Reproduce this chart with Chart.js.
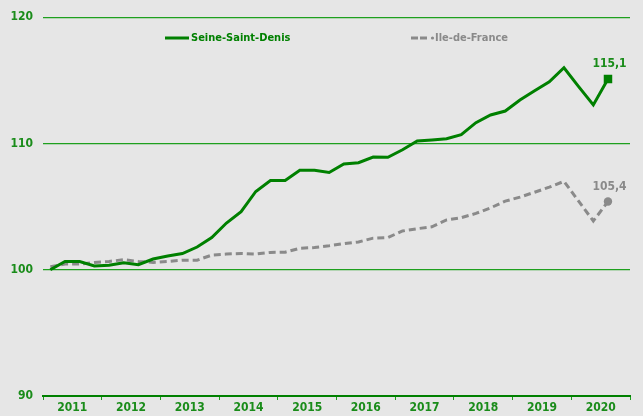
<!DOCTYPE html>
<html>
<head>
<meta charset="utf-8">
<script src="https://cdn.jsdelivr.net/npm/chart.js@4"></script>
<style>
  body { margin: 0; background: #e6e6e6; }
  #wrap { position: relative; width: 643px; height: 416px; }
</style>
</head>
<body>
<div id="wrap"><canvas id="chart"></canvas></div>
<script>
// quarterly index, base 100 = Q1 2011
const years = ["2011", "2012", "2013", "2014", "2015", "2016", "2017", "2018", "2019", "2020"];
const seriesNames = ["Seine-Saint-Denis", "Ile-de-France"];
const seineSaintDenis = [
  100.0, 100.65, 100.65, 100.3, 100.35, 100.55, 100.4, 100.85,
  101.08, 101.28, 101.8, 102.55, 103.7, 104.6, 106.2, 107.06,
  107.06, 107.87, 107.87, 107.7, 108.37, 108.48, 108.92, 108.9,
  109.5, 110.2, 110.28, 110.37, 110.7, 111.65, 112.26, 112.57,
  113.44, 114.17, 114.88, 116.0, 114.5, 113.05, 115.1
];
const ileDeFrance = [
  100.24, 100.45, 100.45, 100.58, 100.66, 100.79, 100.66, 100.58,
  100.66, 100.76, 100.76, 101.16, 101.24, 101.29, 101.24, 101.37,
  101.39, 101.7, 101.76, 101.9, 102.07, 102.2, 102.5, 102.55,
  103.07, 103.25, 103.4, 103.94, 104.12, 104.46, 104.9, 105.43,
  105.75, 106.14, 106.54, 107.0, 105.43, 103.86, 105.4
];
const yTicks = [90, 100, 110, 120];

const GREEN = "#008000";
const TEXT_GREEN = "#1a8c1a";
const GRID_GREEN = "rgb(30,160,30)";
const GREY = "#8a8a8a";
const FONT = "'DejaVu Sans Condensed', 'DejaVu Sans', sans-serif";

// x = quarter index + 0.5 so each point sits mid-quarter
const toPoints = arr => arr.map((v, i) => ({ x: i + 0.5, y: v }));
const lastIdx = seineSaintDenis.length - 1;

const overlay = {
  id: "overlay",
  afterDatasetsDraw(chart) {
    const ctx = chart.ctx;
    ctx.save();
    // legend
    ctx.textBaseline = "middle";
    ctx.lineCap = "butt";
    ctx.strokeStyle = GREEN;
    ctx.lineWidth = 3;
    ctx.beginPath();
    ctx.moveTo(165, 38);
    ctx.lineTo(189, 38);
    ctx.stroke();
    ctx.fillStyle = GREEN;
    ctx.font = "bold 11px " + FONT;
    ctx.fillText(seriesNames[0], 191, 38);

    ctx.strokeStyle = GREY;
    ctx.beginPath();
    ctx.moveTo(411, 38); ctx.lineTo(418, 38);
    ctx.moveTo(420, 38); ctx.lineTo(427, 38);
    ctx.stroke();
    ctx.fillStyle = GREY;
    ctx.beginPath();
    ctx.arc(432.5, 38, 1.6, 0, Math.PI * 2);
    ctx.fill();
    ctx.font = "bold 11px " + FONT;
    ctx.fillText(seriesNames[1], 435, 38);

    // end labels
    ctx.textAlign = "center";
    ctx.font = "bold 12px " + FONT;
    chart.data.datasets.forEach((ds, d) => {
      const pt = chart.getDatasetMeta(d).data[lastIdx];
      const v = ds.data[lastIdx].y;
      ctx.fillStyle = d === 0 ? TEXT_GREEN : GREY;
      ctx.fillText(v.toFixed(1).replace(".", ","), pt.x + 1.5, pt.y - 15);
    });
    ctx.restore();
  }
};

new Chart(document.getElementById("chart"), {
  type: "line",
  data: {
    datasets: [
      {
        label: seriesNames[0],
        data: toPoints(seineSaintDenis),
        borderColor: GREEN,
        backgroundColor: GREEN,
        borderWidth: 3,
        tension: 0,
        pointStyle: "rect",
        pointRadius: c => (c.dataIndex === lastIdx ? 6 : 0),
        pointBorderWidth: 0
      },
      {
        label: seriesNames[1],
        data: toPoints(ileDeFrance),
        borderColor: GREY,
        backgroundColor: GREY,
        borderWidth: 3,
        borderDash: [7, 4],
        tension: 0,
        pointStyle: "circle",
        pointRadius: c => (c.dataIndex === lastIdx ? 4.2 : 0),
        pointBorderWidth: 0
      }
    ]
  },
  options: {
    responsive: true,
    maintainAspectRatio: false,
    animation: false,
    layout: { padding: { top: 15, right: 13, left: 0, bottom: 0 } },
    plugins: {
      legend: { display: false },
      tooltip: { enabled: false }
    },
    scales: {
      x: {
        type: "linear",
        min: 0,
        max: years.length * 4,
        afterFit: s => { s.height = 20; },
        afterBuildTicks: s => {
          s.ticks = [];
          for (let v = 0; v <= years.length * 4; v += 2) s.ticks.push({ value: v });
        },
        border: { display: true, color: GREEN, width: 2 },
        grid: {
          drawOnChartArea: false,
          drawTicks: true,
          tickLength: 4,
          tickWidth: 1,
          tickColor: c => (c.tick && c.tick.value % 4 === 0 ? GRID_GREEN : "rgba(0,0,0,0)")
        },
        ticks: {
          autoSkip: false,
          maxRotation: 0,
          padding: 1,
          color: TEXT_GREEN,
          font: { family: FONT, size: 12, weight: "bold" },
          callback: v => (v % 4 === 2 ? years[(v - 2) / 4] : "")
        }
      },
      y: {
        min: yTicks[0],
        max: yTicks[yTicks.length - 1],
        afterFit: s => { s.width = 43; },
        afterBuildTicks: s => { s.ticks = yTicks.map(v => ({ value: v })); },
        border: { display: false },
        grid: {
          drawTicks: false,
          color: GRID_GREEN,
          lineWidth: 1.3
        },
        ticks: {
          padding: 10,
          color: TEXT_GREEN,
          font: { family: FONT, size: 12, weight: "bold" }
        }
      }
    }
  },
  plugins: [overlay]
});
</script>
</body>
</html>
